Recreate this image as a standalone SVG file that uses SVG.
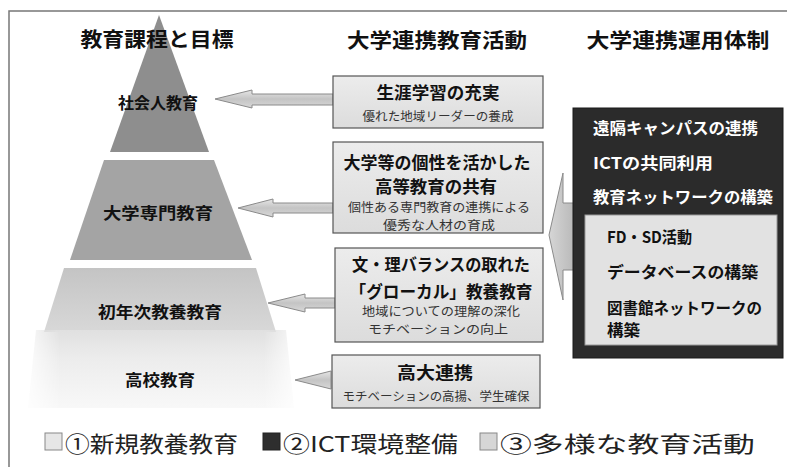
<svg xmlns="http://www.w3.org/2000/svg" width="787" height="467" viewBox="0 0 787 467">
<defs>
<style>
text{font-family:"Noto Sans CJK JP","Noto Sans",sans-serif;fill:#111}
.h{font-size:20px;font-weight:700;text-anchor:middle}
.pl{font-size:16px;font-weight:700;text-anchor:middle}
.bt{font-size:17px;font-weight:700;text-anchor:middle}
.bs{font-size:12px;text-anchor:middle;fill:#333}
.dw{font-size:16px;font-weight:700;fill:#fff}
.db{font-size:16px;font-weight:700;fill:#111}
.lg{font-size:22px;fill:#222}
.box{fill:url(#gbox);stroke:#555;stroke-width:1.2}
.arr{fill:url(#garr);stroke:#8a8a8a;stroke-width:1}
</style>
<linearGradient id="gbox" x1="0" y1="0" x2="0" y2="1"><stop offset="0" stop-color="#ececec"/><stop offset="1" stop-color="#dcdcdc"/></linearGradient>
<linearGradient id="garr" x1="0" y1="0" x2="0" y2="1"><stop offset="0" stop-color="#e6e6e6"/><stop offset="0.5" stop-color="#c4c4c4"/><stop offset="1" stop-color="#d8d8d8"/></linearGradient>
<linearGradient id="gl3" x1="0" y1="0" x2="0" y2="1"><stop offset="0" stop-color="#c4c4c4"/><stop offset="1" stop-color="#d8d8d8"/></linearGradient>
<linearGradient id="gl4" x1="0" y1="0" x2="0" y2="1"><stop offset="0" stop-color="#e0e0e0"/><stop offset="0.35" stop-color="#ececec"/><stop offset="1" stop-color="#f8f8f8"/></linearGradient>
<linearGradient id="gfade" x1="0" y1="0" x2="1" y2="0"><stop offset="0" stop-color="#fff" stop-opacity="0.2"/><stop offset="0.12" stop-color="#fff" stop-opacity="1"/><stop offset="0.88" stop-color="#fff" stop-opacity="1"/><stop offset="1" stop-color="#fff" stop-opacity="0.2"/></linearGradient>
<mask id="m4" maskContentUnits="userSpaceOnUse"><rect x="28" y="328" width="268" height="82" fill="url(#gfade)"/></mask>
<linearGradient id="gwedge" x1="0" y1="0" x2="1" y2="0"><stop offset="0" stop-color="#d6d6d6"/><stop offset="1" stop-color="#b8b8b8"/></linearGradient>
</defs>
<rect x="0" y="0" width="787" height="467" fill="#fff"/>
<g id="frame" fill="none" stroke="#777" stroke-width="1.5">
<path d="M9,467 V11 H787"/>
</g>
<g id="pyramid">
<g id="layer1"><polygon points="159,15 209,152 110,152" fill="#8e8e8e"/><text class="pl" x="158" y="109" textLength="80" lengthAdjust="spacingAndGlyphs">社会人教育</text></g>
<g id="layer2"><polygon points="104,160 214,160 252,260 70,260" fill="#a4a4a4"/><text class="pl" x="158" y="219" textLength="110" lengthAdjust="spacingAndGlyphs">大学専門教育</text></g>
<g id="layer3"><polygon points="64,268 256,268 276,332 44,332" fill="url(#gl3)"/><text class="pl" x="160" y="318" textLength="124" lengthAdjust="spacingAndGlyphs">初年次教養教育</text></g>
<g id="layer4"><polygon points="36,330 286,330 294,408 28,408" fill="url(#gl4)" mask="url(#m4)"/><text class="pl" x="160" y="386" textLength="70" lengthAdjust="spacingAndGlyphs">高校教育</text></g>
</g>
<g id="headers">
<text class="h" x="157" y="47" textLength="153" lengthAdjust="spacingAndGlyphs">教育課程と目標</text>
<text class="h" x="437" y="48" textLength="180" lengthAdjust="spacingAndGlyphs">大学連携教育活動</text>
<text class="h" x="678" y="48" textLength="183" lengthAdjust="spacingAndGlyphs">大学連携運用体制</text>
</g>
<g id="connectors">
<polygon class="arr" points="215,99 252,90 252,94 333,94 333,105 252,105 252,108"/>
<polygon class="arr" points="238,208 273,199 273,203 333,203 333,213 273,213 273,217"/>
<polygon class="arr" points="268,303 305,294 305,298 335,298 335,308 305,308 305,312"/>
<polygon class="arr" points="295,380 331,371 331,389"/>
<polygon fill="url(#gwedge)" stroke="#8a8a8a" stroke-width="1" points="549,235 563,173 563,203 575,203 575,270 563,270 563,300"/>
</g>
<g id="box1"><rect class="box" x="333" y="76" width="210" height="52"/>
<text class="bt" x="438" y="99" textLength="123" lengthAdjust="spacingAndGlyphs">生涯学習の充実</text>
<text class="bs" x="438" y="121" textLength="151" lengthAdjust="spacingAndGlyphs">優れた地域リーダーの養成</text></g>
<g id="box2"><rect class="box" x="333" y="142" width="210" height="91"/>
<text class="bt" x="437" y="169" textLength="187" lengthAdjust="spacingAndGlyphs">大学等の個性を活かした</text>
<text class="bt" x="436" y="193" textLength="122" lengthAdjust="spacingAndGlyphs">高等教育の共有</text>
<text class="bs" x="439" y="212" textLength="182" lengthAdjust="spacingAndGlyphs">個性ある専門教育の連携による</text>
<text class="bs" x="439" y="230" textLength="112" lengthAdjust="spacingAndGlyphs">優秀な人材の育成</text></g>
<g id="box3"><rect class="box" x="335" y="248" width="208" height="94"/>
<text class="bt" x="441" y="271" textLength="178" lengthAdjust="spacingAndGlyphs">文・理バランスの取れた</text>
<text class="bt" x="441" y="298" textLength="183" lengthAdjust="spacingAndGlyphs">「グローカル」教養教育</text>
<text class="bs" x="441" y="316" textLength="158" lengthAdjust="spacingAndGlyphs">地域についての理解の深化</text>
<text class="bs" x="438" y="334" textLength="140" lengthAdjust="spacingAndGlyphs">モチベーションの向上</text></g>
<g id="box4"><rect class="box" x="332" y="355" width="208" height="53"/>
<text class="bt" x="435" y="379" textLength="76" lengthAdjust="spacingAndGlyphs">高大連携</text>
<text class="bs" x="436" y="401" textLength="187" lengthAdjust="spacingAndGlyphs">モチベーションの高揚、学生確保</text></g>
<g id="ictbox"><rect x="573" y="108" width="210" height="250" fill="#2b2b2b" stroke="#1a1a1a"/>
<text class="dw" x="593" y="134" textLength="165" lengthAdjust="spacingAndGlyphs">遠隔キャンパスの連携</text>
<text class="dw" x="593" y="169" textLength="120" lengthAdjust="spacingAndGlyphs">ICTの共同利用</text>
<text class="dw" x="593" y="203" textLength="180" lengthAdjust="spacingAndGlyphs">教育ネットワークの構築</text>
<g id="innerbox"><rect x="585" y="215" width="192" height="130" fill="#e2e2e2" stroke="#999"/>
<text class="db" x="607" y="243" textLength="85" lengthAdjust="spacingAndGlyphs">FD・SD活動</text>
<text class="db" x="607" y="278" textLength="151" lengthAdjust="spacingAndGlyphs">データベースの構築</text>
<text class="db" x="607" y="314" textLength="155" lengthAdjust="spacingAndGlyphs">図書館ネットワークの</text>
<text class="db" x="607" y="336" textLength="33" lengthAdjust="spacingAndGlyphs">構築</text></g></g>
<g id="legend">
<rect x="45" y="433" width="17" height="17" fill="#e6e6e6" stroke="#888"/>
<text class="lg" x="65" y="452" textLength="173" lengthAdjust="spacingAndGlyphs">①新規教養教育</text>
<rect x="263" y="433" width="17" height="17" fill="#2e2e2e" stroke="#222"/>
<text class="lg" x="283" y="452" textLength="175" lengthAdjust="spacingAndGlyphs">②ICT環境整備</text>
<rect x="480" y="433" width="17" height="17" fill="#d6d6d6" stroke="#888"/>
<text class="lg" x="500" y="452" textLength="255" lengthAdjust="spacingAndGlyphs">③多様な教育活動</text>
</g>
</svg>
